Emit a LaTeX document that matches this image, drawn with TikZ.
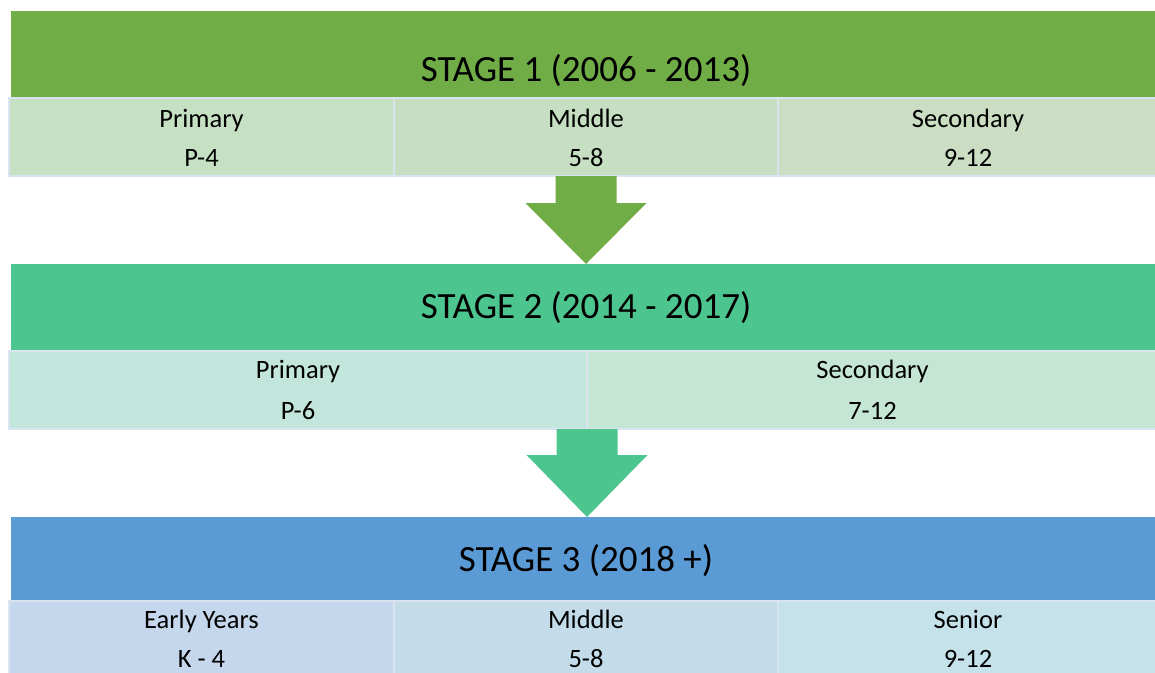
\documentclass[tikz,border=0pt]{standalone}
\usepackage{fontspec}
\setmainfont{Carlito}
\usetikzlibrary{calc}
\definecolor{gA}{HTML}{70AD47}
\definecolor{gB}{HTML}{4DC58E}
\definecolor{bC}{HTML}{5B9BD5}
\definecolor{cA1}{HTML}{C6E0C4}
\definecolor{cA2}{HTML}{C6DFC2}
\definecolor{cA3}{HTML}{CBDDC3}
\definecolor{cB1}{HTML}{C2E6DB}
\definecolor{cB2}{HTML}{C6E6D5}
\definecolor{cC1}{HTML}{C5D7EC}
\definecolor{cC2}{HTML}{C4DBE9}
\definecolor{cC3}{HTML}{C5E2EA}
\definecolor{cellline}{HTML}{DAE3F0}
\tikzset{
  hdr/.style={rectangle, inner sep=0pt, outer sep=0pt, minimum width=1146pt},
  hdrtext/.style={anchor=base, inner sep=0pt, font=\fontsize{37}{44}\selectfont, text=black},
  cellbox/.style={rectangle, inner sep=0pt, outer sep=0pt, draw=cellline, line width=1.5pt, minimum height=78pt},
  ctext/.style={anchor=base, inner sep=0pt, font=\fontsize{26.5}{30}\selectfont, text=black},
}
\begin{document}
\begin{tikzpicture}[x=1pt,y=1pt]
\useasboundingbox (0,0) rectangle (1155,-672);
% ---------- Stage 1
\node[hdr, fill=gA, minimum height=87pt] (h1) at (584,-54.5) {};
\node[hdrtext] (h1t) at (586,-81) {STAGE 1 (2006 - 2013)};
\node[cellbox, fill=cA1, minimum width=385pt] (c1a) at (201.5,-137) {};
\node[cellbox, fill=cA2, minimum width=384pt] (c1b) at (586,-137) {};
\node[cellbox, fill=cA3, minimum width=380pt] (c1c) at (968,-137) {};
\foreach \c/\a/\b in {c1a/Primary/P-4, c1b/Middle/5-8, c1c/Secondary/9-12}{
  \node[ctext] (\c t1) at ($(\c.north)+(0,-29)$) {\a};
  \node[ctext] (\c t2) at ($(\c.north)+(0,-68)$) {\b};
}
% ---------- Stage 2
\node[hdr, fill=gB, minimum height=87pt] (h2) at (584,-307.5) {};
\node[hdrtext] (h2t) at (586,-318) {STAGE 2 (2014 - 2017)};
\node[cellbox, fill=cB1, minimum width=578pt] (c2a) at (298,-390) {};
\node[cellbox, fill=cB2, minimum width=571pt] (c2b) at (872.5,-390) {};
\foreach \c/\a/\b in {c2a/Primary/P-6, c2b/Secondary/7-12}{
  \node[ctext] (\c t1) at ($(\c.north)+(0,-27)$) {\a};
  \node[ctext] (\c t2) at ($(\c.north)+(0,-68)$) {\b};
}
% ---------- Stage 3
\node[hdr, fill=bC, minimum height=84pt] (h3) at (584,-559) {};
\node[hdrtext] (h3t) at (586,-571) {STAGE 3 (2018 +)};
\node[cellbox, fill=cC1, minimum width=385pt] (c3a) at (201.5,-640) {};
\node[cellbox, fill=cC2, minimum width=384pt] (c3b) at (586,-640) {};
\node[cellbox, fill=cC3, minimum width=380pt] (c3c) at (968,-640) {};
\foreach \c/\a/\b in {c3a/Early Years/K - 4, c3b/Middle/5-8, c3c/Senior/9-12}{
  \node[ctext] (\c t1) at ($(\c.north)+(0,-27)$) {\a};
  \node[ctext, text depth=0pt] (\c t2) at ($(\c.north)+(0,-66)$) {\b};
}
% ---------- Arrows
\fill[gA] let \p1=(c1b.south), \p2=(h2.north) in
  (\x1-30.5pt,\y1) -- (\x1+30.5pt,\y1) -- (\x1+30.5pt,\y2+61pt) -- (\x1+60.5pt,\y2+61pt)
  -- (\x1,\y2) -- (\x1-60.5pt,\y2+61pt) -- (\x1-30.5pt,\y2+61pt) -- cycle;
\fill[gB] let \p1=(c2a.south east), \p2=(h3.north) in
  (\x1-30.5pt,\y1) -- (\x1+30.5pt,\y1) -- (\x1+30.5pt,\y2+62pt) -- (\x1+60.5pt,\y2+62pt)
  -- (\x1,\y2) -- (\x1-60.5pt,\y2+62pt) -- (\x1-30.5pt,\y2+62pt) -- cycle;
\end{tikzpicture}
\end{document}
